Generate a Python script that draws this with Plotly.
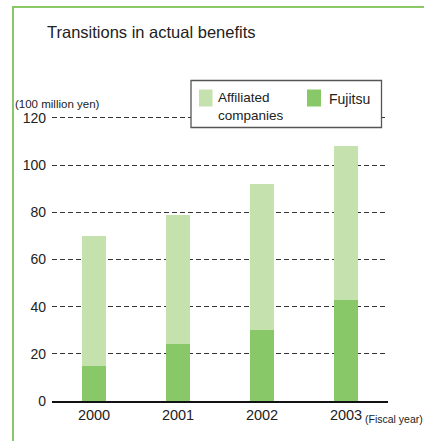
import plotly.graph_objects as go

years = ["2000", "2001", "2002", "2003"]
fujitsu = [15, 24, 30, 43]
affiliated = [55, 55, 62, 65]
y_ticks = [0, 20, 40, 60, 80, 100, 120]

LIGHT = "#c4e1ae"
DARK = "#89c868"
FRAME = "#88c867"

W_FIG, H_FIG = 424, 441
L, R, T, B = 52, 36, 106, 40
PW = W_FIG - L - R
PH = H_FIG - T - B
BOT = H_FIG - B

def px(x):
    return (x - L) / PW

def py(y):
    return (BOT - y) / PH

FONT = "Liberation Sans, Arial, sans-serif"

fig = go.Figure()
fig.add_trace(go.Bar(x=years, y=fujitsu, name="Fujitsu", marker=dict(color=DARK, line=dict(width=0)),
                     width=0.275))
fig.add_trace(go.Bar(x=years, y=affiliated, name="Affiliated companies", marker=dict(color=LIGHT, line=dict(width=0)),
                     width=0.275))

shapes = [
    # outer frame (left and top visible)
    dict(type="rect", xref="paper", yref="paper", x0=px(13), x1=px(440), y0=py(7), y1=py(460),
         line=dict(color=FRAME, width=2), fillcolor="rgba(0,0,0,0)", layer="below"),
    # legend box
    dict(type="rect", xref="paper", yref="paper", x0=px(191), x1=px(381.5), y0=py(80.5), y1=py(127.5),
         line=dict(color="#555555", width=1.3), fillcolor="white", layer="above"),
    dict(type="rect", xref="paper", yref="paper", x0=px(199), x1=px(212.5), y0=py(89.5), y1=py(106.5),
         line=dict(width=0), fillcolor=LIGHT, layer="above"),
    dict(type="rect", xref="paper", yref="paper", x0=px(307), x1=px(321), y0=py(89.5), y1=py(106.5),
         line=dict(width=0), fillcolor=DARK, layer="above"),
]

def ann(text, x, y, size, family=FONT, xanchor="left", color="#222222"):
    return dict(text=text, xref="paper", yref="paper", x=px(x), y=py(y), xanchor=xanchor, yanchor="middle",
                align="left", showarrow=False, font=dict(family=family, size=size, color=color))

annotations = [
    ann("Transitions in actual benefits", 45, 31.5, 16.5),
    ann("(100 million yen)", 13, 104, 11.5),
    ann("(Fiscal year)", 363, 418.5, 10.5),
    ann("Affiliated<br>companies", 216, 106.5, 13.5),
    ann("Fujitsu", 326.5, 98.5, 14),
]

fig.update_layout(
    width=W_FIG, height=H_FIG,
    margin=dict(l=L, r=R, t=T, b=B, pad=0),
    barmode="stack",
    showlegend=False,
    plot_bgcolor="white", paper_bgcolor="white",
    font=dict(family=FONT, color="#222222"),
    shapes=shapes,
    annotations=annotations,
    xaxis=dict(showgrid=False, showline=True, linecolor="#111111", linewidth=2,
               ticks="", tickfont=dict(size=14.5, color="#222222"), range=[-0.5, 3.5]),
    yaxis=dict(range=[0, PH / 2.36], tickvals=y_ticks, showgrid=True, gridcolor="#333333", gridwidth=1,
               griddash="5px,3px", zeroline=False, ticks="", ticklabelstandoff=5,
               tickfont=dict(size=14, color="#222222")),
)

fig.write_html("out.html")
